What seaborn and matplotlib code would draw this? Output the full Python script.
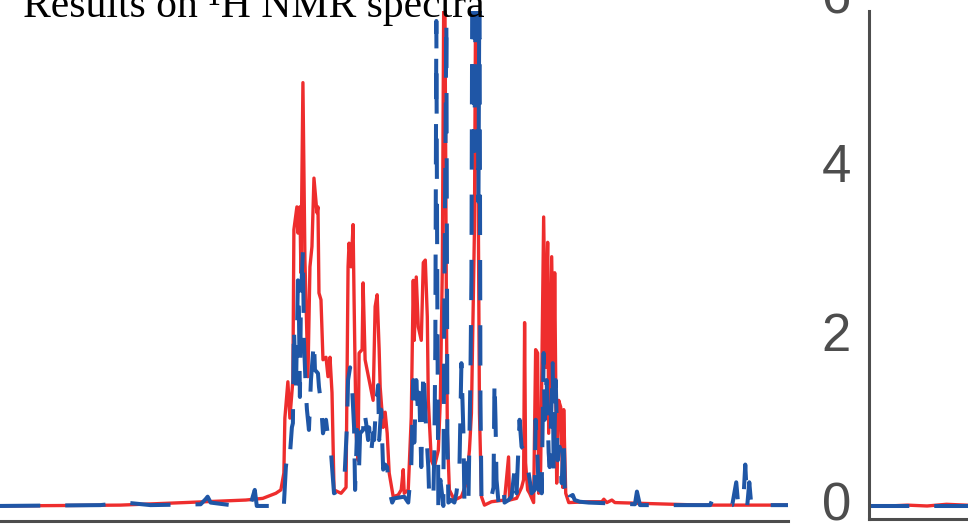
import matplotlib
matplotlib.use("Agg")
import matplotlib.pyplot as plt
from matplotlib.transforms import ScaledTranslation
import seaborn as sns

# spectra (shift axis in arbitrary units, intensity as on the y axis)
red_x = [17, 137, 201, 262, 279, 292, 297, 300, 301, 304, 306, 309, 310, 313, 314, 316,
         317, 319, 321, 324, 326, 328, 330, 333, 334, 335, 337, 339, 342, 344, 346, 348,
         350, 357, 362, 364, 365, 367, 369, 370, 372, 374, 375, 378, 379, 381, 385, 389,
         391, 393, 395, 396, 399, 401, 403, 405, 409, 414, 417, 419, 420, 424, 427, 429,
         430, 432, 434, 437, 439, 441, 443, 444, 447, 450, 454, 456, 458, 460, 462, 463,
         465, 470, 477, 482, 485, 487, 490, 492, 494, 495, 497, 500, 507, 520, 524, 525,
         532, 537, 539, 540, 541, 543, 545, 549, 551, 553, 554, 556, 558, 559, 561, 563,
         564, 567, 569, 570, 572, 574, 576, 578, 579, 581, 584, 604, 617, 619, 622, 627,
         630, 717, 805]
red_y = [0.00, 0.01, 0.04, 0.07, 0.09, 0.15, 0.19, 0.39, 1.04, 1.47, 1.04, 1.49, 3.27, 3.54, 3.23, 3.54,
         2.76, 5.01, 2.91, 1.53, 2.83, 3.07, 3.88, 3.47, 3.54, 2.52, 2.44, 1.73, 1.76, 1.53, 1.76, 1.34,
         0.19, 0.15, 0.22, 2.83, 3.11, 2.83, 3.33, 2.44, 0.86, 0.54, 1.81, 1.85, 2.64, 1.73, 1.49, 1.25,
         2.36, 2.50, 1.85, 1.41, 0.93, 1.11, 0.86, 0.39, 0.11, 0.13, 0.19, 0.43, 0.15, 0.19, 1.05, 2.67,
         1.96, 2.71, 2.12, 1.96, 2.88, 2.91, 2.24, 1.25, 0.54, 0.46, 0.66, 1.25, 2.83, 7.50, 2.44, 0.86,
         0.19, 0.07, 0.11, 0.27, 0.66, 1.10, 3.27, 8.00, 3.18, 1.10, 0.11, 0.01, 0.05, 0.07, 0.58, 0.07,
         0.09, 0.22, 0.31, 2.17, 0.51, 0.19, 0.15, 0.04, 1.85, 1.81, 0.15, 0.43, 2.44, 3.42, 1.64, 3.12,
         0.86, 2.95, 1.25, 2.76, 0.27, 1.25, 1.17, 0.22, 1.14, 0.15, 0.04, 0.05, 0.05, 0.08, 0.04, 0.07,
         0.04, 0.01, 0.01]

blue_x = [17, 117, 142, 167, 217, 222, 224, 227, 247, 267, 269, 271, 273, 290, 292, 294,
          300, 302, 304, 306, 308, 309, 310, 312, 314, 315, 316, 317, 319, 320, 322, 323,
          325, 327, 330, 331, 334, 335, 337, 339, 342, 344, 345, 347, 350, 360, 363, 364,
          366, 368, 370, 371, 373, 375, 376, 379, 380, 382, 384, 385, 387, 389, 390, 392,
          394, 395, 397, 399, 401, 403, 405, 408, 410, 420, 424, 427, 429, 430, 432, 434,
          435, 437, 439, 440, 442, 444, 445, 449, 450, 451, 452, 453, 454, 456, 459, 460,
          462, 463, 464, 467, 470, 472, 475, 477, 479, 480, 483, 484, 486, 487, 488, 490,
          492, 494, 495, 496, 497, 499, 505, 507, 509, 510, 511, 512, 514, 517, 519, 520,
          524, 527, 530, 532, 535, 537, 540, 544, 547, 550, 551, 553, 554, 556, 557, 559,
          560, 562, 564, 565, 568, 569, 571, 573, 575, 577, 579, 580, 584, 585, 588, 590,
          595, 604, 650, 652, 655, 725, 727, 729, 747, 751, 753, 758, 760, 762, 764, 766,
          805]
blue_y = [0.00, 0.01, 0.04, 0.01, 0.02, 0.08, 0.11, 0.04, 0.01, 0.02, 0.11, 0.19, 0.00, 0.00, 0.07, 0.00,
          0.01, 0.46, 0.66, 0.60, 0.93, 0.98, 2.12, 1.34, 2.67, 2.32, 1.29, 2.44, 3.03, 1.96, 1.34, 1.14,
          0.90, 1.49, 1.96, 1.61, 1.57, 1.41, 1.22, 0.86, 1.02, 0.82, 0.78, 0.63, 0.15, 0.22, 0.98, 1.49,
          1.64, 1.41, 0.93, 0.19, 0.90, 0.46, 0.86, 0.90, 1.14, 0.98, 0.78, 0.93, 0.63, 0.86, 0.78, 1.22,
          1.43, 0.78, 1.14, 0.43, 0.49, 0.46, 0.19, 0.04, 0.09, 0.11, 0.04, 0.46, 1.49, 0.75, 1.49, 1.05,
          1.34, 0.46, 1.61, 1.41, 0.86, 0.46, 0.07, 0.07, 0.66, 1.88, 5.74, 2.44, 0.00, 0.31, 0.00, 2.44,
          5.75, 0.86, 0.04, 0.07, 0.04, 0.15, 0.43, 1.69, 0.86, 0.04, 0.51, 0.04, 1.53, 2.71, 7.00, 4.20,
          7.50, 3.60, 6.50, 1.25, 0.11, 0.01, 0.04, 0.11, 0.22, 1.49, 1.02, 0.31, 0.04, 0.07, 0.22, 0.04,
          0.07, 0.11, 0.43, 0.15, 1.02, 0.70, 0.66, 0.39, 0.15, 0.19, 1.02, 0.54, 0.19, 0.46, 0.15, 1.81,
          1.02, 1.49, 0.63, 0.46, 1.69, 0.39, 1.49, 0.54, 0.70, 0.27, 0.82, 0.22, 0.01, 0.11, 0.13, 0.07,
          0.05, 0.04, 0.02, 0.17, 0.01, 0.01, 0.07, 0.01, 0.01, 0.28, 0.01, 0.04, 0.49, 0.01, 0.28, 0.01,
          0.01]

# second panel, only its lower-left corner is in the picture
side_x = [0, 10, 20, 30, 40, 50, 60, 70, 80, 90, 100]
side_red = [0.00, 0.00, 0.01, 0.00, 0.02, 0.01, 0.00, 0.01, 0.00, 0.00, 0.01]
side_blue = [0.00, 0.00, 0.00, 0.00, 0.00, 0.00, 0.00, 0.00, 0.00, 0.00, 0.00]

x_ticks = [200, 400, 600, 800]
y_ticks = [0, 2, 4, 6]

RED = "#EE2D2D"
BLUE = "#1F56A6"
GREY = "#4D4D4D"
DASH = (0, (10, 6.2))

sns.set_style("white")
plt.rcParams["font.family"] = ["Liberation Sans", "DejaVu Sans"]

fig = plt.figure(figsize=(9.68, 5.30), dpi=100)
ax = fig.add_axes([0, 9 / 530, 788 / 968, 510 / 530])
ax2 = fig.add_axes([869 / 968, 11 / 530, 0.2, 520 / 530])

# main spectra
sns.lineplot(x=red_x, y=red_y, ax=ax, color=RED, linewidth=2.4, estimator=None, sort=False)
sns.lineplot(x=blue_x, y=blue_y, ax=ax, color=BLUE, linewidth=2.9, linestyle=DASH,
             estimator=None, sort=False)
ax.set_xlim(17, 802.6)
ax.set_ylim(-0.178, 5.858)
ax.set_xticks(x_ticks)
ax.set_yticks([])
ax.tick_params(axis="x", direction="in", length=10, width=2, color=GREY, labelbottom=False)
ax.set_xlabel("")
ax.set_ylabel("")
for s in ["left", "top", "right"]:
    ax.spines[s].set_visible(False)
ax.spines["bottom"].set_color(GREY)
ax.spines["bottom"].set_linewidth(2.2)

# side panel
sns.lineplot(x=side_x, y=side_red, ax=ax2, color=RED, linewidth=2.4, estimator=None, sort=False)
sns.lineplot(x=side_x, y=side_blue, ax=ax2, color=BLUE, linewidth=2.9, linestyle=DASH,
             estimator=None, sort=False)
ax2.set_xlim(0, 100)
ax2.set_ylim(-0.154, 6.0)
ax2.set_yticks(y_ticks)
ax2.set_xticks([])
ax2.tick_params(axis="y", direction="in", length=15, width=2, color=GREY,
                labelcolor=GREY, labelsize=38, pad=13)
ax2.set_xlabel("")
ax2.set_ylabel("")
for s in ["top", "right"]:
    ax2.spines[s].set_visible(False)
for s in ["left", "bottom"]:
    ax2.spines[s].set_color(GREY)
    ax2.spines[s].set_linewidth(2.2)
ax2.spines["left"].set_bounds(-0.154, 5.86)
# labels sit a little above their ticks in the original
shift = ScaledTranslation(0, 5 / 100, fig.dpi_scale_trans)
for lab in ax2.get_yticklabels():
    lab.set_transform(lab.get_transform() + shift)

fig.text(23 / 968, 513 / 530, "Results on ¹H NMR spectra", family=["Liberation Serif", "DejaVu Serif"],
         fontsize=30, va="baseline", color="black")

fig.savefig("out.png", dpi=100)
